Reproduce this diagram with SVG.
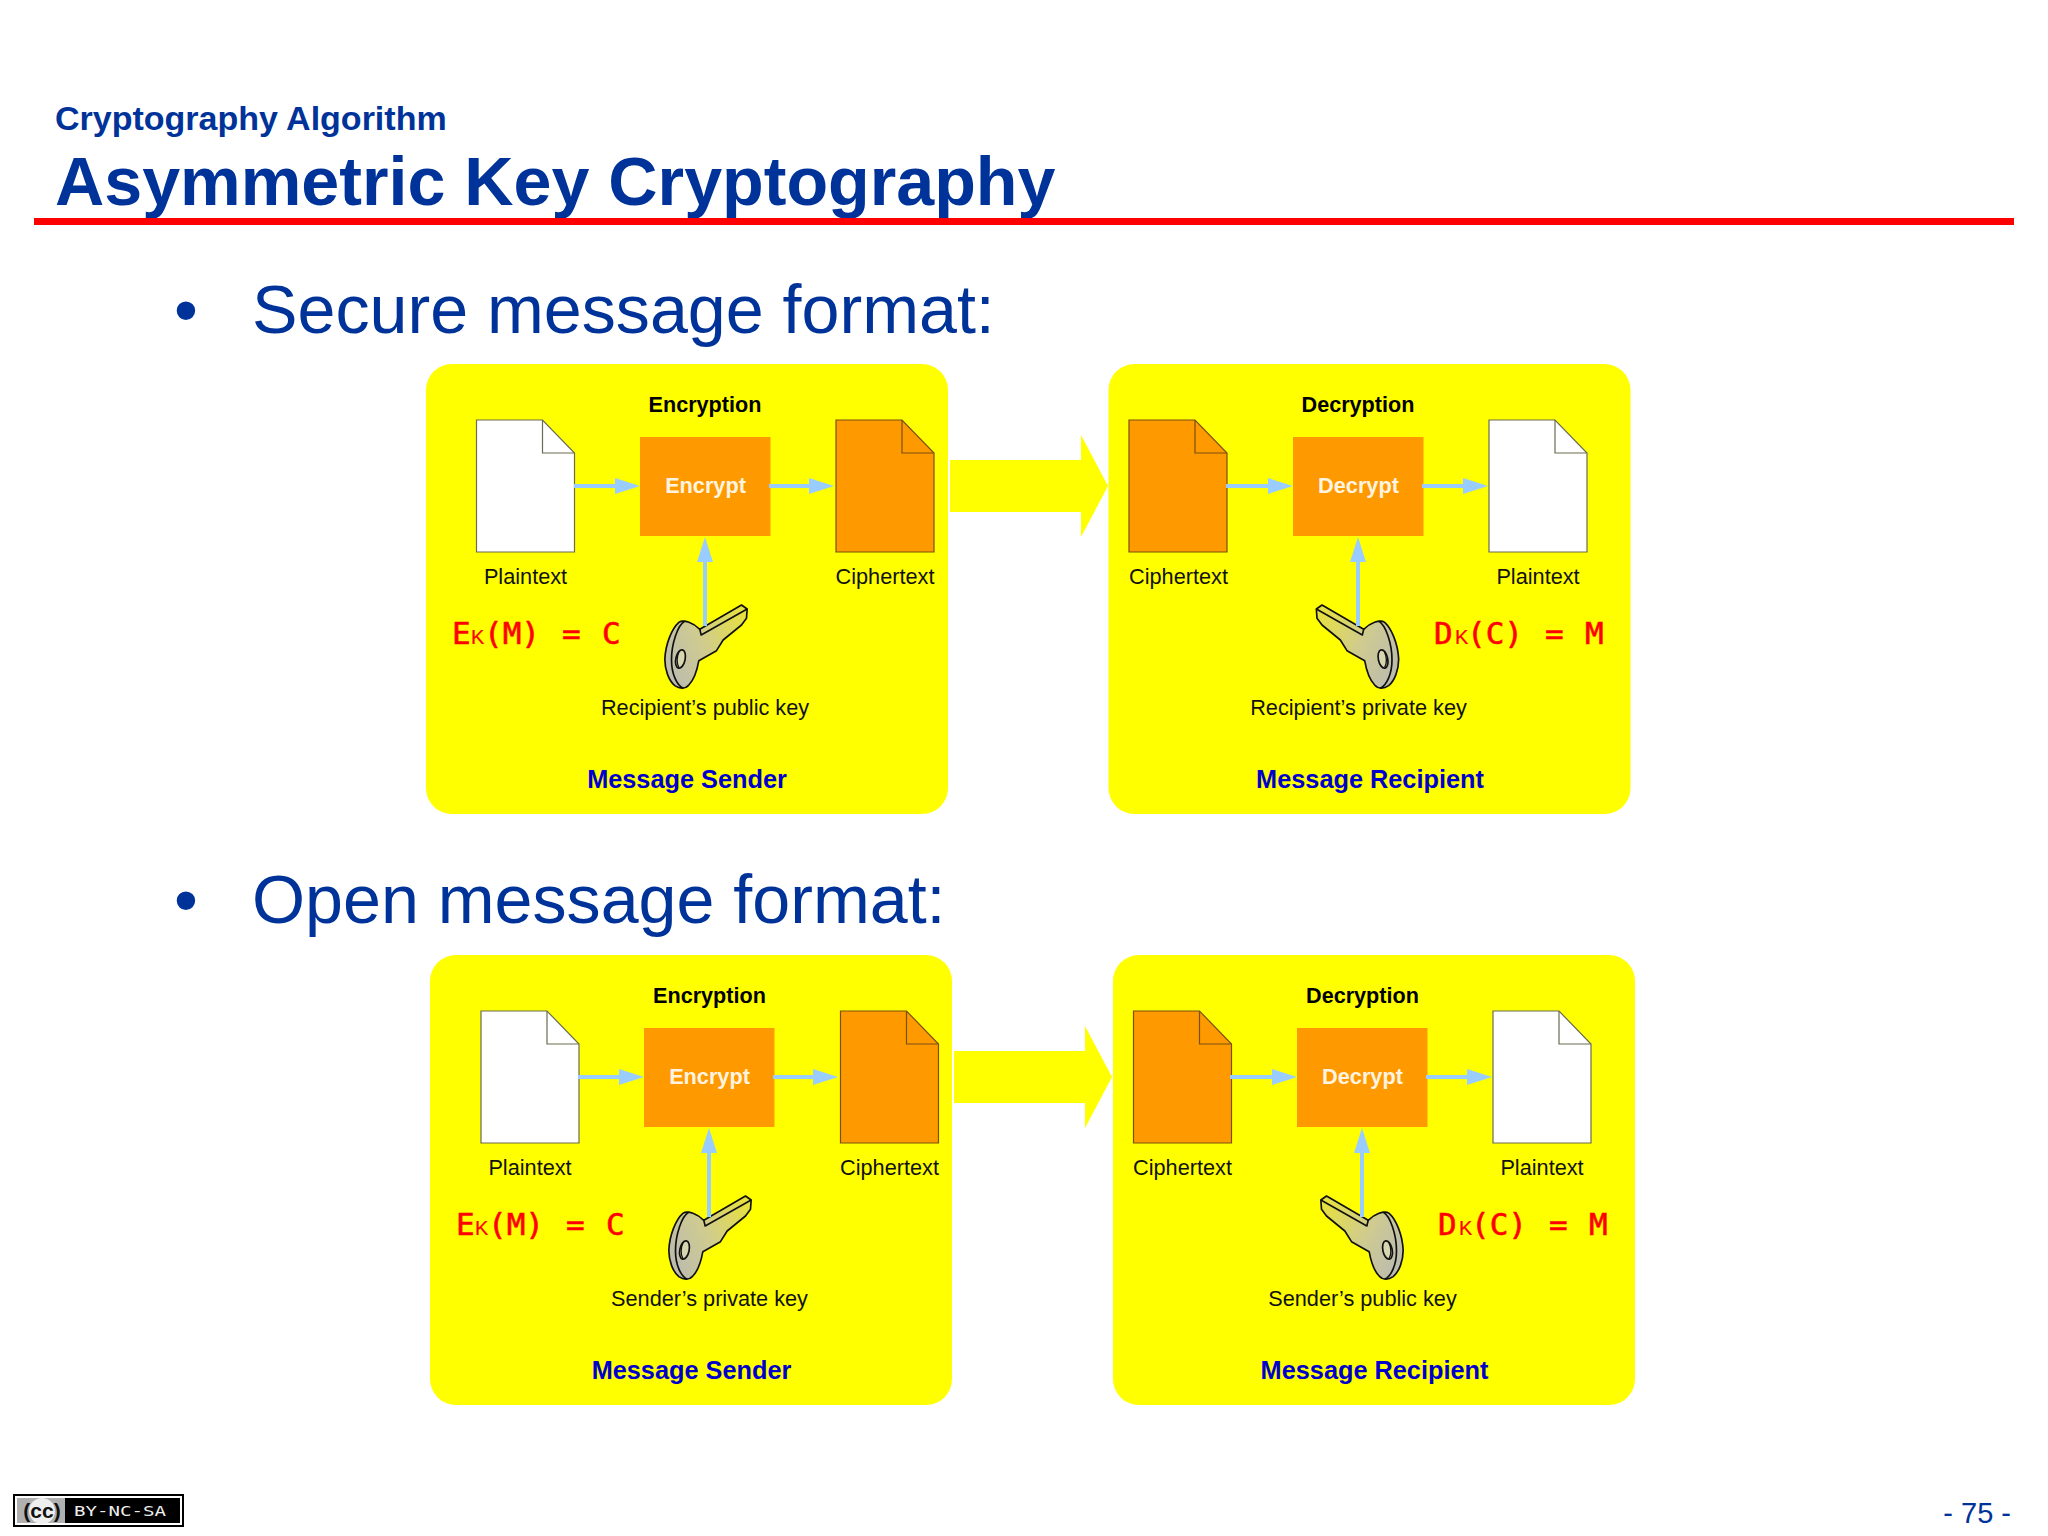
<svg xmlns="http://www.w3.org/2000/svg" width="2048" height="1536" viewBox="0 0 2048 1536">
<style>
text{font-family:"Liberation Sans",Arial,sans-serif}
.head{fill:#003399}
.big{font-size:68.2px}
.panel{fill:#ffff00}
.lab{font-size:21.7px;fill:#111;text-anchor:middle}
.ttl{font-size:21.6px;font-weight:bold;fill:#000;text-anchor:middle}
.boxt{font-size:21.7px;font-weight:bold;fill:#fff4e0;text-anchor:middle}
.who{font-size:25.3px;font-weight:bold;fill:#0000cc;text-anchor:middle}
.box{fill:#ff9900}
.f{font-family:"DejaVu Sans Mono",monospace;font-size:31px;fill:#ff0000;stroke:#ff0000;stroke-width:.6}
.f .k{font-size:20px;font-family:"Liberation Sans",sans-serif;stroke-width:.2}
.flow{stroke:#99ccff;stroke-width:4;fill:none}
</style>
<defs>
<marker id="ah" markerUnits="userSpaceOnUse" markerWidth="26" markerHeight="18" refX="0" refY="9" orient="auto"><path d="M0,1 L25,9 L0,17 Z" fill="#99ccff"/></marker>
<linearGradient id="kg" x1="0" y1="0.7" x2="1" y2="0.2"><stop offset="0" stop-color="#bdbcae"/><stop offset="0.45" stop-color="#cfcb90"/><stop offset="1" stop-color="#e6e040"/></linearGradient>
<g id="docW"><path d="M0,0 H66 L98,33 V132 H0 Z" fill="#fff" stroke="#6b6b50" stroke-width="1.2"/><path d="M66,0 V33 H98" fill="none" stroke="#6b6b50" stroke-width="1.2"/></g>
<g id="docO"><path d="M0,0 H66 L98,33 V132 H0 Z" fill="#ff9900" stroke="#7a5010" stroke-width="1.2"/><path d="M66,0 V33 H98" fill="none" stroke="#7a5010" stroke-width="1.2"/></g>
<g id="key" transform="scale(0.3333)">
<path d="M178,118 L303,45 L320,57 L318,85 L303,105 L248,150 L228,182 L175,212 C170,240 160,270 145,285 C135,297 118,297 103,287 C85,272 73,240 73,208 C75,160 95,115 115,97 C130,87 160,100 178,118 Z" fill="url(#kg)" stroke="#111" stroke-width="5" stroke-linejoin="round"/>
<path d="M178,118 L182,135 L320,57 M133,93 C112,105 93,160 93,210 C93,250 108,285 128,295" fill="none" stroke="#111" stroke-width="5" stroke-linejoin="round"/>
<ellipse cx="120" cy="207" rx="14" ry="28" transform="rotate(12 120 207)" fill="#d8d6b0" stroke="#111" stroke-width="5"/>
<path d="M116,184 C108,200 108,222 115,232" fill="none" stroke="#111" stroke-width="4"/>
</g>
</defs>
<rect width="2048" height="1536" fill="#ffffff"/>
<g id="header">
<text class="head" x="55" y="130" font-size="34" font-weight="bold">Cryptography Algorithm</text>
<text class="head" x="55" y="205" font-size="68.2" font-weight="bold">Asymmetric Key Cryptography</text>
<rect x="34" y="218" width="1980" height="7" fill="#ff0000"/>
</g>
<g id="bullet-secure"><text class="head big" x="174" y="333">•</text><text class="head big" x="252" y="333">Secure message format:</text></g>
<g id="bullet-open"><text class="head big" x="174" y="923">•</text><text class="head big" x="252" y="923">Open message format:</text></g>

<g id="panel-secure-sender">
<rect class="panel" x="426" y="364" width="522" height="450" rx="26"/>
<text class="ttl" x="705" y="412">Encryption</text>
<text class="who" x="687" y="788">Message Sender</text>
<text class="f" y="644"><tspan x="452">E</tspan><tspan class="k" x="471">K</tspan><tspan x="484">(M)</tspan><tspan x="562">=</tspan><tspan x="602">C</tspan></text>
</g>
<g id="secure-plaintext-in"><use href="#docW" x="476.5" y="420"/><text class="lab" x="525.5" y="584">Plaintext</text></g>
<g id="secure-encrypt"><rect class="box" x="640" y="437" width="130.500" height="99"/><text class="boxt" x="705.500" y="493">Encrypt</text></g>
<g id="secure-ciphertext-out"><use href="#docO" x="836" y="420"/><text class="lab" x="885" y="584">Ciphertext</text></g>
<g id="secure-public-key"><use href="#key" transform="translate(640.500,590)"/><text class="lab" x="705" y="715">Recipient’s public key</text></g>

<g id="panel-secure-recipient">
<rect class="panel" x="1108.500" y="364" width="522" height="450" rx="26"/>
<text class="ttl" x="1358" y="412">Decryption</text>
<text class="who" x="1370" y="788">Message Recipient</text>
<text class="f" y="644"><tspan x="1434">D</tspan><tspan class="k" x="1455">K</tspan><tspan x="1467">(C)</tspan><tspan x="1545">=</tspan><tspan x="1585">M</tspan></text>
</g>
<g id="secure-ciphertext-in"><use href="#docO" x="1129" y="420"/><text class="lab" x="1178.500" y="584">Ciphertext</text></g>
<g id="secure-decrypt"><rect class="box" x="1293" y="437" width="130.500" height="99"/><text class="boxt" x="1358.500" y="493">Decrypt</text></g>
<g id="secure-plaintext-out"><use href="#docW" x="1489" y="420"/><text class="lab" x="1538" y="584">Plaintext</text></g>
<g id="secure-private-key"><use href="#key" transform="translate(1423,590) scale(-1,1)"/><text class="lab" x="1358.500" y="715">Recipient’s private key</text></g>

<g id="panel-open-sender">
<rect class="panel" x="430" y="955" width="522" height="450" rx="26"/>
<text class="ttl" x="709.500" y="1003">Encryption</text>
<text class="who" x="691.500" y="1379">Message Sender</text>
<text class="f" y="1235"><tspan x="456">E</tspan><tspan class="k" x="475">K</tspan><tspan x="488">(M)</tspan><tspan x="566">=</tspan><tspan x="606">C</tspan></text>
</g>
<g id="open-plaintext-in"><use href="#docW" x="481" y="1011"/><text class="lab" x="530" y="1175">Plaintext</text></g>
<g id="open-encrypt"><rect class="box" x="644" y="1028" width="130.500" height="99"/><text class="boxt" x="709.500" y="1084">Encrypt</text></g>
<g id="open-ciphertext-out"><use href="#docO" x="840.500" y="1011"/><text class="lab" x="889.500" y="1175">Ciphertext</text></g>
<g id="open-private-key"><use href="#key" transform="translate(644.500,1181)"/><text class="lab" x="709.500" y="1306">Sender’s private key</text></g>

<g id="panel-open-recipient">
<rect class="panel" x="1113" y="955" width="522" height="450" rx="26"/>
<text class="ttl" x="1362.500" y="1003">Decryption</text>
<text class="who" x="1374.500" y="1379">Message Recipient</text>
<text class="f" y="1235"><tspan x="1438">D</tspan><tspan class="k" x="1459">K</tspan><tspan x="1471">(C)</tspan><tspan x="1549">=</tspan><tspan x="1589">M</tspan></text>
</g>
<g id="open-ciphertext-in"><use href="#docO" x="1133.500" y="1011"/><text class="lab" x="1182.500" y="1175">Ciphertext</text></g>
<g id="open-decrypt"><rect class="box" x="1297" y="1028" width="130.500" height="99"/><text class="boxt" x="1362.500" y="1084">Decrypt</text></g>
<g id="open-plaintext-out"><use href="#docW" x="1493" y="1011"/><text class="lab" x="1542" y="1175">Plaintext</text></g>
<g id="open-public-key"><use href="#key" transform="translate(1427.500,1181) scale(-1,1)"/><text class="lab" x="1362.500" y="1306">Sender’s public key</text></g>

<g id="connectors">
<path class="flow" marker-end="url(#ah)" d="M574,486 H615"/>
<path class="flow" marker-end="url(#ah)" d="M769,486 H809"/>
<path class="flow" marker-end="url(#ah)" d="M705,626 V562"/>
<path class="flow" marker-end="url(#ah)" d="M1226,486 H1268"/>
<path class="flow" marker-end="url(#ah)" d="M1422,486 H1463"/>
<path class="flow" marker-end="url(#ah)" d="M1358,626 V562"/>
<polygon points="950,460 1081,460 1081,435 1108,486 1081,537 1081,512 950,512" fill="#ffff00"/>
<path class="flow" marker-end="url(#ah)" d="M578,1077 H619"/>
<path class="flow" marker-end="url(#ah)" d="M773,1077 H813"/>
<path class="flow" marker-end="url(#ah)" d="M709,1217 V1153"/>
<path class="flow" marker-end="url(#ah)" d="M1230,1077 H1272"/>
<path class="flow" marker-end="url(#ah)" d="M1426,1077 H1467"/>
<path class="flow" marker-end="url(#ah)" d="M1362,1217 V1153"/>
<polygon points="954,1051 1085,1051 1085,1026 1112,1077 1085,1128 1085,1103 954,1103" fill="#ffff00"/>
</g>

<g id="cc-badge">
<rect x="13" y="1494" width="171" height="33" fill="#000"/>
<rect x="15" y="1496" width="167" height="29" fill="#fff"/>
<rect x="17" y="1498" width="163" height="25" fill="#000"/>
<rect x="17" y="1498" width="48" height="25" fill="#b0b0b0"/>
<circle cx="42" cy="1511" r="13" fill="#eee"/>
<text x="42" y="1518" font-size="21" font-weight="bold" text-anchor="middle" fill="#111">(cc)</text>
<text x="74" y="1516" font-size="14" fill="#eee" textLength="92" lengthAdjust="spacingAndGlyphs" style="font-family:'DejaVu Sans Mono',monospace">BY-NC-SA</text>
</g>
<g id="page-number"><text class="head" x="2011" y="1523" font-size="29" text-anchor="end">- 75 -</text></g>
</svg>
